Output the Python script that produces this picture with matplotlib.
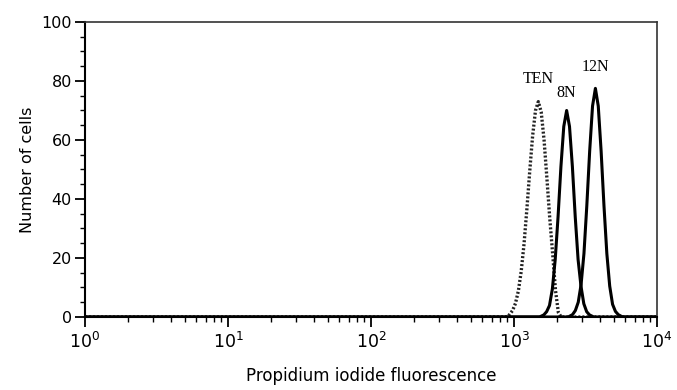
import numpy as np
import matplotlib as mpl
mpl.use("agg")
import matplotlib.pyplot as plt
from matplotlib.ticker import MultipleLocator, LogLocator, NullFormatter

# ---- data (fluorescence channel, number of cells)
ten_x = [1, 871, 912, 977, 1023, 1072, 1122, 1175, 1230, 1288, 1349, 1413, 1479,
         1549, 1622, 1698, 1778, 1862, 1950, 2042, 2138, 10000]
ten_y = [0, 0, 0.3, 2.2, 4.6, 8.8, 15.4, 24.8, 36.6, 49.5, 61.4, 70, 73,
         69.5, 60, 47, 33.4, 21.5, 9, 1.5, 0, 0]

n8_x = [1, 1507, 1614, 1690, 1770, 1854, 1941, 2032, 2128, 2228, 2333, 2443,
        2559, 2679, 2805, 2938, 3076, 3221, 3373, 3614, 10000]
n8_y = [0, 0, 0.7, 1.8, 3.9, 9.5, 19.5, 34, 51, 64.6, 70, 64.6,
        51, 34, 19.5, 10.5, 4.5, 1.8, 0.7, 0, 0]

n12_x = [1, 2393, 2564, 2685, 2812, 2944, 3083, 3228, 3381, 3540, 3707, 3882,
         4064, 4256, 4457, 4667, 4887, 5117, 5358, 5741, 10000]
n12_y = [0, 0, 0.8, 2.2, 5.0, 11.0, 21.5, 37.7, 56.3, 71.5, 77.5, 71.5,
         56.3, 37.7, 21.5, 10.5, 4.3, 1.9, 0.8, 0, 0]

labels = ["TEN", "8N", "12N"]
label_pos = [(1480, 80.6), (2315, 75.8), (3740, 84.9)]

fig = plt.figure(figsize=(6.77, 3.90), dpi=100)
ax = fig.add_axes([0.1256, 0.1872, 0.8449, 0.7564])

ax.plot(ten_x, ten_y, color='#222222', lw=2.4, linestyle=(0, (0.6, 0.6)))
ax.plot(n8_x, n8_y, color='black', lw=2.2)
ax.plot(n12_x, n12_y, color='black', lw=2.2)

for lab, (lx, ly) in zip(labels, label_pos):
    ax.text(lx, ly, lab, ha='center', va='center', fontsize=11.5,
            family='Liberation Serif')

ax.set_xscale('log')
ax.set_xlim(1, 1e4)
ax.set_ylim(0, 100)

ax.yaxis.set_major_locator(MultipleLocator(20))
ax.yaxis.set_minor_locator(MultipleLocator(5))
ax.xaxis.set_major_locator(LogLocator(base=10, numticks=10))
ax.xaxis.set_minor_locator(LogLocator(base=10, subs=np.arange(2, 10), numticks=10))
ax.xaxis.set_minor_formatter(NullFormatter())

ax.tick_params(which='major', direction='out', length=7, width=1.3, labelsize=11.5, pad=2.5)
ax.tick_params(which='minor', direction='out', length=3.5, width=1.0)
ax.tick_params(axis='x', which='major', labelsize=12.5, pad=4)
ax.tick_params(right=False, top=False)

for side in ['left', 'bottom']:
    ax.spines[side].set_linewidth(1.5)
for side in ['top', 'right']:
    ax.spines[side].set_linewidth(1.2)
    ax.spines[side].set_color('#333333')

ax.set_ylabel('Number of cells', fontsize=11.5)
ax.set_xlabel('Propidium iodide fluorescence', fontsize=12)
ax.yaxis.set_label_coords(-0.088, 0.5)
ax.xaxis.set_label_coords(0.5, -0.17)

plt.savefig('out.png', dpi=100)
plt.close()
